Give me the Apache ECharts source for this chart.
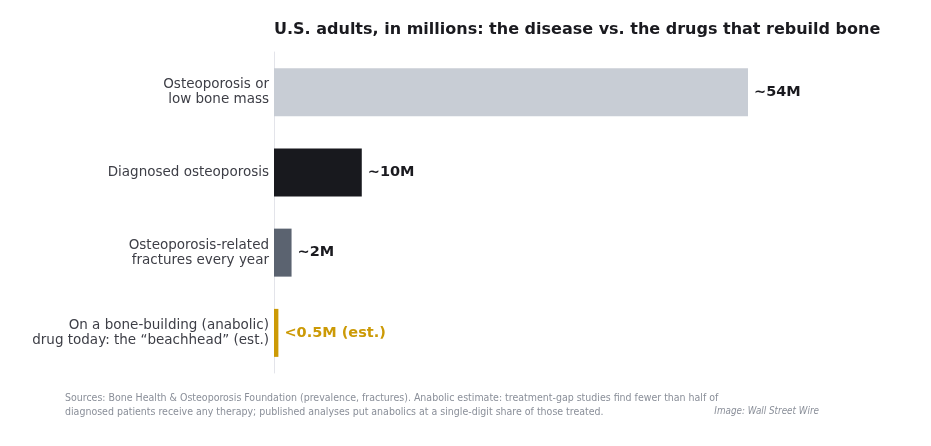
<!DOCTYPE html>
<html><head><meta charset="utf-8">
<script src="https://cdn.jsdelivr.net/npm/echarts@6/dist/echarts.min.js"></script>
<style>html,body{margin:0;padding:0;background:#fff}#c{width:931px;height:446px}</style>
</head><body><div id="c"></div>
<script>
const categories = [
  "Osteoporosis or\nlow bone mass",
  "Diagnosed osteoporosis",
  "Osteoporosis-related\nfractures every year",
  "On a bone-building (anabolic)\ndrug today: the \u201cbeachhead\u201d (est.)"
];
const values = [54, 10, 2, 0.5];
const valueLabels = ["~54M", "~10M", "~2M", "<0.5M (est.)"];
const barColors = ["#c8cdd5", "#18191e", "#5b6370", "#cc9a06"];
const labelColors = ["#1a1a1f", "#1a1a1f", "#1a1a1f", "#cc9a06"];

const chart = echarts.init(document.getElementById('c'));
chart.setOption({
  animation: false,
  title: {
    text: "U.S. adults, in millions: the disease vs. the drugs that rebuild bone",
    left: 274, top: 22, padding: 0,
    textStyle: {fontFamily: "DejaVu Sans", fontWeight: "bold", fontSize: 16, color: "#1a1a1f"}
  },
  graphic: [
    {type: 'text', left: 65, top: 391, style: {
      text: "Sources: Bone Health & Osteoporosis Foundation (prevalence, fractures). Anabolic estimate: treatment-gap studies find fewer than half of\ndiagnosed patients receive any therapy; published analyses put anabolics at a single-digit share of those treated.",
      font: "10.5px 'Liberation Sans Narrow', 'DejaVu Sans Condensed', sans-serif", fill: "#8a8f99", lineHeight: 14}},
    {type: 'text', right: 112, top: 406, style: {
      text: "Image: Wall Street Wire",
      font: "italic 9.8px 'Liberation Sans Narrow', 'DejaVu Sans Condensed', sans-serif", fill: "#8a8f99"}}
  ],
  grid: {left: 274, right: 183, top: 52, bottom: 73},
  xAxis: {type: 'value', min: 0, max: 54, show: false},
  yAxis: {
    type: 'category', data: categories, inverse: true,
    axisLine: {show: true, lineStyle: {color: "#e3e4ea", width: 1}},
    axisTick: {show: false},
    axisLabel: {fontFamily: "DejaVu Sans", fontSize: 13.5, color: "#3d3e46", lineHeight: 15, margin: 5, align: 'right', padding: [5, 0, 0, 0]}
  },
  series: [{
    type: 'bar',
    data: values.map((v, i) => ({value: v, itemStyle: {color: barColors[i]},
      label: {formatter: valueLabels[i], color: labelColors[i]}})),
    barWidth: 48,
    label: {show: true, position: 'right', distance: 6, fontFamily: "DejaVu Sans", fontWeight: 'bold', fontSize: 14.5}
  }]
});
</script></body></html>
